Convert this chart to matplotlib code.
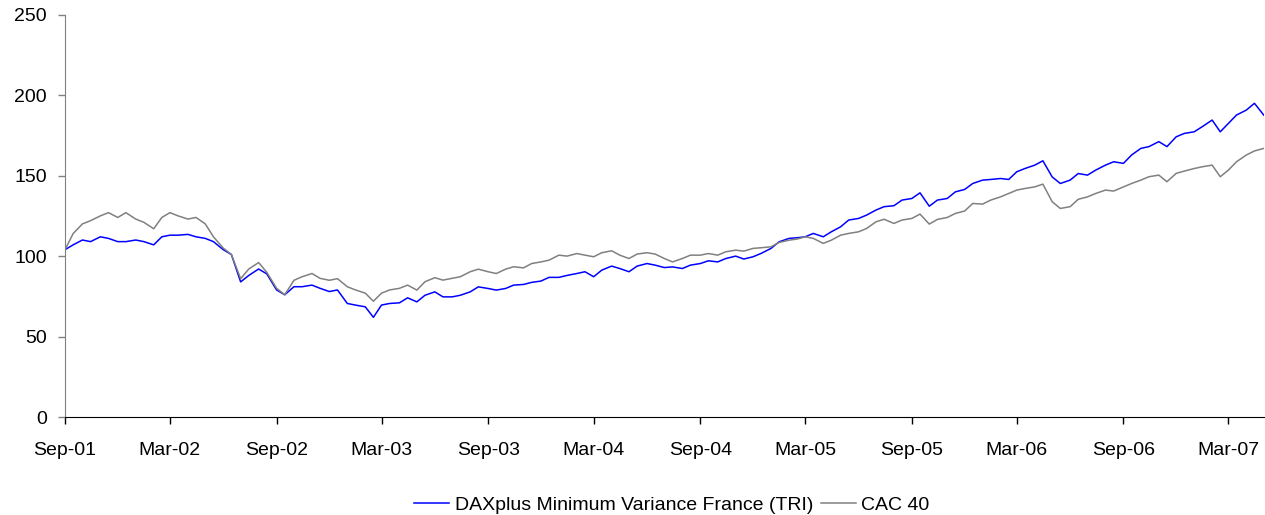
#!/usr/bin/env python3

import matplotlib
matplotlib.use("Agg")
import matplotlib.pyplot as plt
import matplotlib.dates as mdates
import pandas as pd

# semi-monthly readings (1st and 15th) from Sep 2001 to May 2007
dates = pd.date_range("2001-09-01", periods=137, freq="SMS")

daxplusMinVar = [
    104, 107, 110, 109, 112, 111, 109, 109, 110, 109,
    107, 112, 113, 113, 113.5, 112, 111, 109, 104, 101,
    84, 88, 92, 89, 79, 76, 81, 81, 82, 80,
    78, 79, 70.6, 69.6, 68.5, 62, 69.6, 70.6, 71, 74.1,
    71.6, 75.7, 77.8, 74.7, 74.7, 75.7, 77.8, 80.9, 79.9, 78.9,
    79.9, 82, 82.4, 83.7, 84.5, 86.8, 86.8, 88, 89.2, 90.3,
    87.2, 91.3, 93.8, 92.3, 90.3, 93.8, 95.4, 94.4, 92.9, 93.3,
    92.3, 94.4, 95.4, 97.1, 96.4, 98.5, 100, 98.2, 99.6, 101.7,
    104.8, 108.9, 111, 111.4, 112, 114.1, 112, 115.1, 118.2, 122.4,
    123.4, 125.5, 128.6, 130.7, 131.3, 134.8, 135.8, 139.3, 131, 134.8,
    135.8, 139.9, 141.4, 145.1, 147.2, 147.6, 148.2, 147.6, 152.4, 154.4,
    156.5, 159.2, 149.2, 145.1, 147.2, 151.3, 150.3, 153.4, 156.5, 158.6,
    157.6, 162.8, 166.9, 168, 171.1, 168, 174.1, 176.2, 177.2, 180.4,
    184.5, 177.2, 182.4, 187.6, 190.7, 194.9, 187.6,
]

cac40 = [
    104, 114, 120, 122, 125, 127, 124, 127, 123, 121,
    117, 124, 127, 125, 123, 124, 120, 112, 105, 101,
    86, 92, 96, 90, 80, 76, 85, 87.2, 89.2, 86.2,
    85, 86, 81, 79, 77, 72, 77, 79, 80, 82,
    78.9, 84.1, 86.6, 85.1, 86.2, 87.2, 90.3, 91.9, 90.3, 89.2,
    91.9, 93.4, 92.7, 95.4, 96.4, 97.5, 100.6, 100, 101.6, 100.6,
    99.6, 102.1, 103.3, 100.6, 98.5, 101.3, 102.1, 101.3, 98.5, 96.4,
    98.5, 100.6, 100.6, 101.6, 100.6, 102.7, 103.7, 103.1, 104.8, 105.2,
    105.8, 108.5, 109.9, 110.6, 112, 111, 107.9, 109.9, 113, 114.1,
    115.1, 117.2, 121.3, 122.9, 120.3, 122.4, 123.4, 126.1, 119.9, 122.8,
    124, 126.5, 128, 132.7, 132.3, 134.8, 136.8, 138.9, 141, 142,
    143, 144.7, 133.8, 129.6, 130.7, 135.3, 136.8, 138.9, 141, 140.4,
    143, 145.1, 147.2, 149.3, 150.3, 146.2, 151.4, 152.8, 154.4, 155.5,
    156.5, 149.3, 153.4, 158.6, 162.8, 165.3, 166.9,
]

tickDates = pd.date_range("2001-09-01", "2007-03-01", freq="6MS")
yTicks = [0, 50, 100, 150, 200, 250]


def main() -> None:
    plt.rcParams["font.family"] = ["Liberation Sans", "DejaVu Sans"]

    fig = plt.figure(figsize=(12.65, 5.15), dpi=100)
    ax = fig.add_axes([0.0514, 0.19, 0.9476, 0.7817])

    ax.plot(dates, daxplusMinVar, color="#0000FF", linewidth=1.1,
            label="DAXplus Minimum Variance France (TRI)")
    ax.plot(dates, cac40, color="#808080", linewidth=1.1, label="CAC 40")

    ax.set_xlim(pd.Timestamp("2001-09-01"), pd.Timestamp("2007-05-01"))
    ax.set_ylim(0, 250)
    ax.set_yticks(yTicks)
    ax.set_xticks(tickDates)
    ax.xaxis.set_major_formatter(mdates.DateFormatter("%b-%y"))

    for side in ("top", "right"):
        ax.spines[side].set_visible(False)
    ax.spines["left"].set_color("#808080")
    ax.spines["bottom"].set_color("black")
    ax.tick_params(axis="x", length=5, width=1, pad=13, labelsize=14, colors="black")
    ax.tick_params(axis="y", length=5, width=1, pad=8, labelsize=14, colors="black")
    ax.tick_params(axis="y", color="#808080")

    fig.legend(loc="center", bbox_to_anchor=(0.531, 0.019), ncol=2, frameon=False,
               fontsize=14, handlelength=1.8, handletextpad=0.3, columnspacing=0.4)

    fig.savefig("out.png", dpi=100)


if __name__ == "__main__":
    main()
